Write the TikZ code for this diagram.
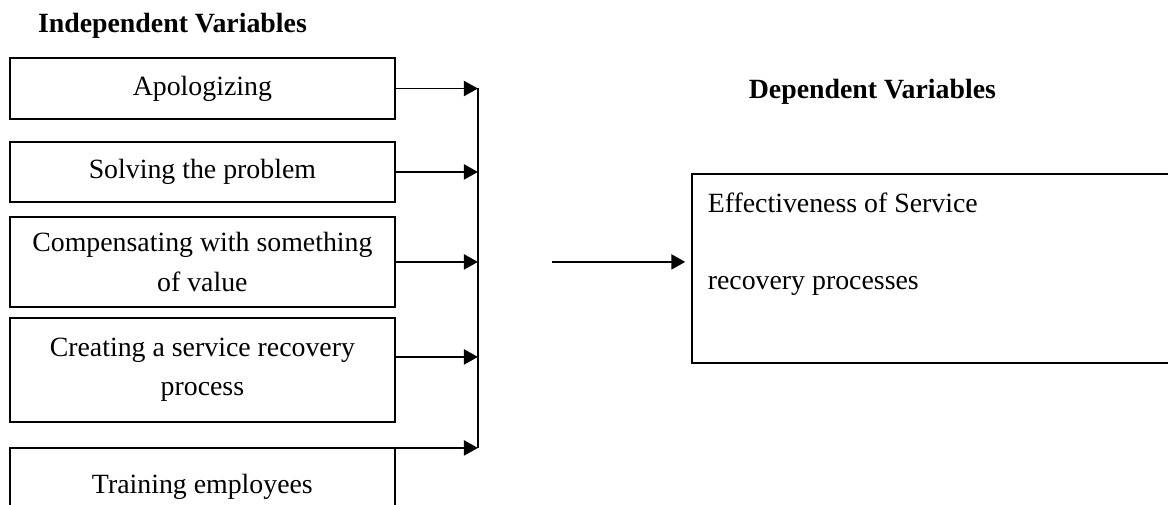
\documentclass[tikz,border=0pt]{standalone}
\usepackage{fontspec}
\setmainfont{Liberation Serif}
\usepackage{tikz}
\usetikzlibrary{positioning, arrows.meta, calc}

\begin{document}
\begin{tikzpicture}[
    ivbox/.style={draw, line width=0.8pt, outer sep=0pt, minimum width=5.83cm, align=center, inner sep=0pt, font=\fontsize{12}{17}\selectfont},
    depbox/.style={draw, line width=0.8pt, outer sep=0pt, text width=6.79cm, align=flush left, inner xsep=0.242cm, inner ysep=0pt, text height=0.591cm, text depth=2.27cm, font=\fontsize{12}{14.4}\selectfont},
    head/.style={font=\fontsize{12}{14.4}\selectfont\bfseries},
    arrow/.style={-{Triangle[length=6pt, width=6.5pt]}, line width=0.8pt},
    line/.style={line width=0.8pt},
]
\useasboundingbox (0,0) rectangle (17.70,-7.64);
\clip (0,0) rectangle (17.70,-7.64);
% independent variables
\node[ivbox, anchor=north west, minimum height=0.924cm] (apol) at (0.152,-0.879) {Apologizing};
\node[ivbox, below=0.348cm of apol, minimum height=0.909cm] (solve) {Solving the problem};
\node[ivbox, below=0.227cm of solve, minimum height=1.364cm] (comp) {Compensating with something\\of value};
\node[ivbox, below=0.167cm of comp, minimum height=1.576cm] (create) {Creating a service recovery\\process};
\node[ivbox, below=0.394cm of create, minimum height=1.18cm] (train) {Training employees};
\node[head, anchor=base west] (indep) at ([xshift=0.30cm, yshift=0.38cm]apol.north west) {Independent Variables};
% dependent variable
\node[depbox, anchor=north west] (dep) at (10.484,-2.636) {Effectiveness of Service\\[18.4pt]recovery processes};
\node[head, anchor=base west] (depvar) at ([xshift=0.74cm, yshift=1.15cm]dep.north west) {Dependent Variables};
% connectors
\coordinate (bustop) at ([xshift=1.26cm]apol.east);
\coordinate (busbot) at (bustop |- train.north);
\draw[line] (bustop) -- (busbot);
\draw[arrow] (apol.east) -- (bustop);
\draw[arrow] (solve.east) -- (solve.east -| bustop);
\draw[arrow] (comp.east) -- (comp.east -| bustop);
\draw[arrow] ([yshift=0.197cm]create.east) -- ([yshift=0.197cm]create.east -| bustop);
\draw[arrow] (train.north east) -- (busbot);
\coordinate (outstart) at ([xshift=1.12cm]comp.east -| bustop);
\draw[arrow, shorten >=0.1cm] (outstart) -- (outstart -| dep.west);
\end{tikzpicture}
\end{document}
